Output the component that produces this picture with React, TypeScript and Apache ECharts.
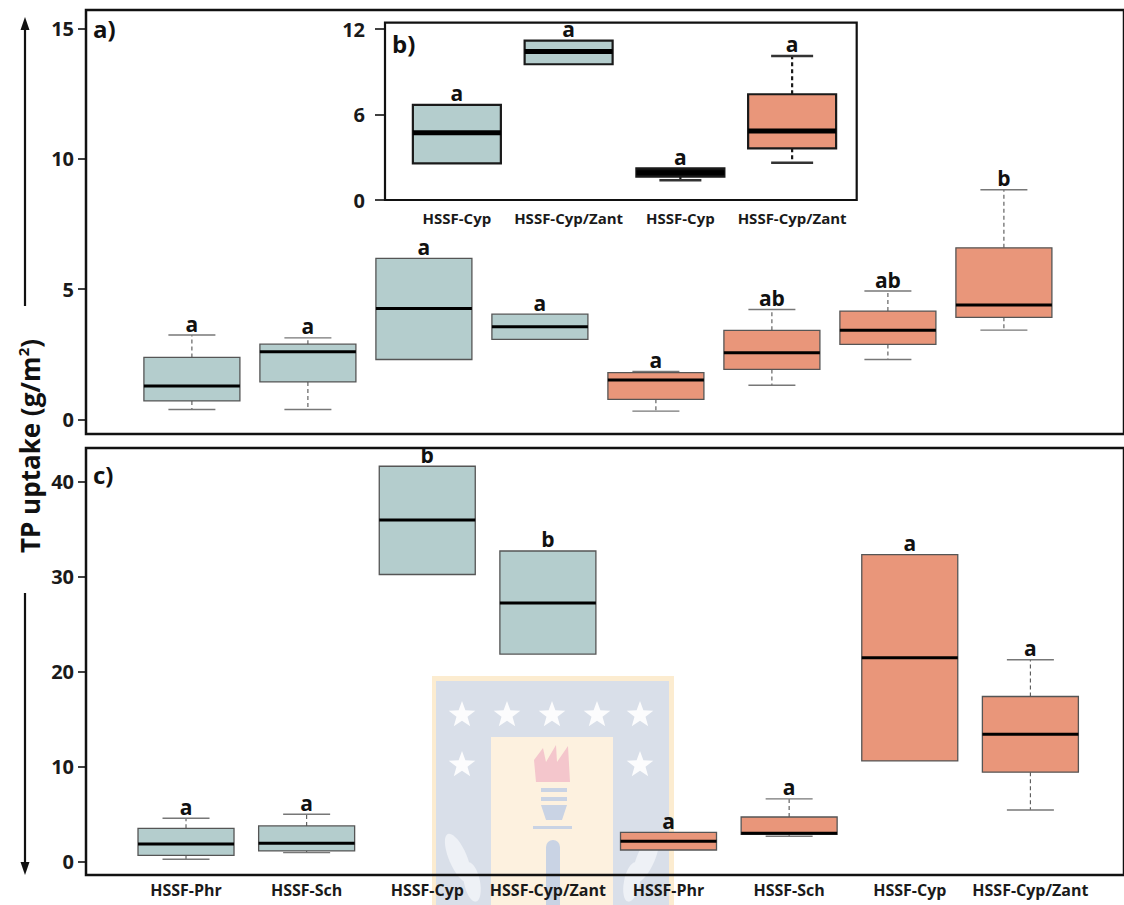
import React, { useEffect, useRef } from 'react';
import * as echarts from 'echarts';

// Treatment labels along the x axes
const categories = ['HSSF-Phr', 'HSSF-Sch', 'HSSF-Cyp', 'HSSF-Cyp/Zant', 'HSSF-Phr', 'HSSF-Sch', 'HSSF-Cyp', 'HSSF-Cyp/Zant'];
const insetCategories = ['HSSF-Cyp', 'HSSF-Cyp/Zant', 'HSSF-Cyp', 'HSSF-Cyp/Zant'];

// Fill group per box: 0 = blue-grey, 1 = salmon, 2 = dark
const groupsMain = [0, 0, 0, 0, 1, 1, 1, 1];
const groupsInset = [0, 0, 2, 1];

// Box statistics: [lower whisker, Q1, median, Q3, upper whisker]
const boxesA = [
  [0.38, 0.71, 1.28, 2.38, 3.24],
  [0.38, 1.44, 2.6, 2.89, 3.13],
  [2.3, 2.3, 4.26, 6.18, 6.18],
  [3.07, 3.07, 3.56, 4.04, 4.04],
  [0.32, 0.77, 1.51, 1.8, 1.84],
  [1.31, 1.92, 2.56, 3.42, 4.22],
  [2.3, 2.88, 3.42, 4.16, 4.93],
  [3.43, 3.92, 4.39, 6.59, 8.82],
];
const lettersA = ['a', 'a', 'a', 'a', 'a', 'ab', 'ab', 'b'];

const boxesB = [
  [2.58, 2.58, 4.73, 6.68, 6.68],
  [9.54, 9.54, 10.43, 11.2, 11.2],
  [1.38, 1.64, 1.92, 2.23, 2.23],
  [2.62, 3.63, 4.85, 7.43, 10.12],
];
const lettersB = ['a', 'a', 'a', 'a'];

const boxesC = [
  [0.25, 0.67, 1.86, 3.51, 4.57],
  [0.95, 1.13, 1.94, 3.76, 4.99],
  [30.2, 30.2, 35.94, 41.58, 41.58],
  [21.83, 21.83, 27.2, 32.67, 32.67],
  [1.23, 1.23, 2.15, 3.09, 3.09],
  [2.67, 2.88, 2.99, 4.7, 6.6],
  [10.6, 10.6, 21.44, 32.28, 32.28],
  [5.44, 9.41, 13.41, 17.37, 21.23],
];
const lettersC = ['a', 'a', 'b', 'b', 'a', 'a', 'a', 'a'];

// Axis ticks
const ticksA = [0, 5, 10, 15];
const ticksB = [0, 6, 12];
const ticksC = [0, 10, 20, 30, 40];

const FONT = "'Open Sans', 'DejaVu Sans', sans-serif";
const FILLS = ['#B4CDCD', '#E9967A', '#111111'];

type Look = {
  boxWidth: number;
  capWidth: number;
  border: string;
  borderWidth: number;
  medianWidth: number;
  whiskerWidth: number;
  capColor: string;
  letterGap: number;
};

const mainLook: Look = {
  boxWidth: 96, capWidth: 47, border: '#555', borderWidth: 1.3, medianWidth: 3,
  whiskerWidth: 1.1, capColor: '#777', letterGap: 1,
};
const insetLook: Look = {
  boxWidth: 88, capWidth: 42, border: '#1a1a1a', borderWidth: 2.2, medianWidth: 5,
  whiskerWidth: 2.2, capColor: '#333', letterGap: 1,
};

function boxSeries(xAxisIndex: number, yAxisIndex: number, boxes: number[][], groups: number[], letters: string[], look: Look) {
  return {
    type: 'custom',
    xAxisIndex,
    yAxisIndex,
    z: 3,
    data: boxes.map((b, i) => [i, ...b, groups[i]]),
    encode: { x: 0, y: [1, 2, 3, 4, 5] },
    renderItem: (params: any, api: any) => {
      const i = api.value(0);
      const lo = api.value(1);
      const q1 = api.value(2);
      const md = api.value(3);
      const q3 = api.value(4);
      const hi = api.value(5);
      const g = api.value(6);
      const cx = api.coord([i, md])[0];
      const y = (v: number) => api.coord([i, v])[1];
      const half = look.boxWidth / 2;
      const capHalf = look.capWidth / 2;
      const children: any[] = [];
      const whisker = (from: number, to: number) => {
        children.push({
          type: 'line',
          shape: { x1: cx, y1: y(from), x2: cx, y2: y(to) },
          style: { stroke: look.border, lineWidth: look.whiskerWidth, lineDash: [4, 3] },
        });
        children.push({
          type: 'line',
          shape: { x1: cx - capHalf, y1: y(to), x2: cx + capHalf, y2: y(to) },
          style: { stroke: look.capColor, lineWidth: look.whiskerWidth + 0.3 },
        });
      };
      if (hi > q3) whisker(q3, hi);
      if (lo < q1) whisker(q1, lo);
      children.push({
        type: 'rect',
        shape: { x: cx - half, y: y(q3), width: look.boxWidth, height: y(q1) - y(q3) },
        style: { fill: FILLS[g], stroke: look.border, lineWidth: look.borderWidth },
      });
      children.push({
        type: 'line',
        shape: { x1: cx - half, y1: y(md), x2: cx + half, y2: y(md) },
        style: { stroke: '#000', lineWidth: look.medianWidth },
      });
      children.push({
        type: 'text',
        style: {
          text: letters[params.dataIndex],
          x: cx,
          y: y(hi) - look.letterGap,
          align: 'center',
          verticalAlign: 'bottom',
          fontFamily: FONT,
          fontWeight: 'bold',
          fontSize: 21,
          fill: '#111',
        },
      });
      return { type: 'group', children };
    },
  };
}

function frameYAxis(gridIndex: number, min: number, max: number, ticks: number[], tickLen: number, margin: number) {
  return {
    type: 'value',
    gridIndex,
    min,
    max,
    splitLine: { show: false },
    axisLine: { show: false },
    axisTick: { show: true, length: tickLen, customValues: ticks, lineStyle: { color: '#111', width: 1.6 } },
    axisLabel: {
      customValues: ticks,
      margin,
      fontFamily: FONT,
      fontWeight: 'bold',
      fontSize: 20,
      color: '#1a1a1a',
    },
  };
}

function hiddenYAxis(gridIndex: number, min: number, max: number) {
  return { type: 'value', gridIndex, min, max, show: false, splitLine: { show: false } };
}

function star(cx: number, cy: number, R: number, r: number) {
  const pts: number[][] = [];
  for (let k = 0; k < 10; k++) {
    const ang = -Math.PI / 2 + (k * Math.PI) / 5;
    const rad = k % 2 === 0 ? R : r;
    pts.push([cx + rad * Math.cos(ang), cy + rad * Math.sin(ang)]);
  }
  return pts;
}

// Faint crest printed behind the lower panel
function crest() {
  const z = -10;
  const leaf = (x: number, y: number, rx: number, ry: number, rotation: number) => ({
    type: 'ellipse', z, x, y, rotation, shape: { cx: 0, cy: 0, rx, ry }, style: { fill: '#eef1f6' },
  });
  const els: any[] = [
    { type: 'rect', z, shape: { x: 432, y: 676, width: 242, height: 229 }, style: { fill: '#fcecd0' } },
    { type: 'rect', z, shape: { x: 436, y: 681, width: 233, height: 224 }, style: { fill: '#d9dfe9' } },
    { type: 'rect', z, shape: { x: 491, y: 737, width: 122, height: 168 }, style: { fill: '#fdf1df' } },
  ];
  const starPos = [[462, 715], [507, 715], [552, 715], [597, 715], [640, 715], [462, 765], [640, 765]];
  starPos.forEach(([sx, sy]) => {
    els.push({ type: 'polygon', z, shape: { points: star(sx, sy, 14, 5.8) }, style: { fill: '#ffffff', opacity: 0.9 } });
  });
  els.push(
    { type: 'polygon', z, shape: { points: [[536, 782], [534, 760], [543, 748], [546, 762], [556, 745], [557, 762], [568, 746], [570, 782]] }, style: { fill: '#f4c6cc' } },
    { type: 'rect', z, shape: { x: 541, y: 788, width: 26, height: 4 }, style: { fill: '#c9d3e4' } },
    { type: 'rect', z, shape: { x: 541, y: 797, width: 26, height: 4 }, style: { fill: '#c9d3e4' } },
    { type: 'polygon', z, shape: { points: [[541, 805], [567, 805], [562, 820], [546, 820]] }, style: { fill: '#c9d3e4' } },
    { type: 'rect', z, shape: { x: 533, y: 826, width: 39, height: 3 }, style: { fill: '#c9d3e4' } },
    { type: 'rect', z, shape: { x: 546, y: 840, width: 14, height: 65, r: [7, 7, 0, 0] }, style: { fill: '#c9d3e4' } },
    leaf(458, 858, 9, 26, 0.4),
    leaf(472, 882, 8, 20, 0.2),
    leaf(646, 858, 9, 26, -0.4),
    leaf(632, 882, 8, 20, -0.2),
  );
  return els;
}

const panelLabel = (text: string, x: number, y: number) => ({
  type: 'text',
  z: 10,
  style: { text, x, y, verticalAlign: 'middle', fontFamily: FONT, fontWeight: 'bold', fontSize: 24, fill: '#111' },
});

const option: any = {
  animation: false,
  backgroundColor: '#fff',
  grid: [
    { left: 86, top: 10, width: 1050, height: 424, show: true, borderColor: '#111', borderWidth: 2.5, backgroundColor: 'transparent' },
    { left: 133.9, top: 10, width: 928, height: 424 },
    { left: 385, top: 22.7, width: 471.7, height: 177.3, show: true, borderColor: '#111', borderWidth: 2.2, backgroundColor: '#fff' },
    { left: 401, top: 22.7, width: 447, height: 177.3 },
    { left: 86, top: 448, width: 1050, height: 427, show: true, borderColor: '#111', borderWidth: 2.5, backgroundColor: 'transparent' },
    { left: 125.7, top: 448, width: 965, height: 427 },
  ],
  xAxis: [
    { type: 'value', gridIndex: 0, show: false, min: 0, max: 1 },
    { type: 'category', gridIndex: 1, data: categories, show: false },
    { type: 'value', gridIndex: 2, show: false, min: 0, max: 1 },
    {
      type: 'category', gridIndex: 3, data: insetCategories,
      axisLine: { show: false }, axisTick: { show: false },
      axisLabel: { margin: 10, fontFamily: FONT, fontWeight: 'bold', fontSize: 15, color: '#1a1a1a', interval: 0 },
    },
    { type: 'value', gridIndex: 4, show: false, min: 0, max: 1 },
    {
      type: 'category', gridIndex: 5, data: categories,
      axisLine: { show: false }, axisTick: { show: false },
      axisLabel: { margin: 7, fontFamily: FONT, fontWeight: 'bold', fontSize: 16, color: '#1a1a1a', interval: 0 },
    },
  ],
  yAxis: [
    frameYAxis(0, -0.56, 15.72, ticksA, 8, 12),
    hiddenYAxis(1, -0.56, 15.72),
    frameYAxis(2, 0, 12.46, ticksB, 10, 20),
    hiddenYAxis(3, 0, 12.46),
    frameYAxis(4, -1.4, 43.5, ticksC, 8, 12),
    hiddenYAxis(5, -1.4, 43.5),
  ],
  series: [
    boxSeries(1, 1, boxesA, groupsMain, lettersA, mainLook),
    boxSeries(3, 3, boxesB, groupsInset, lettersB, insetLook),
    boxSeries(5, 5, boxesC, groupsMain, lettersC, mainLook),
  ],
  graphic: [
    ...crest(),
    panelLabel('a)', 93, 28),
    panelLabel('b)', 392, 43),
    panelLabel('c)', 93, 474),
    // y-axis title and direction arrows
    {
      type: 'text',
      z: 10,
      x: 30,
      y: 446,
      rotation: Math.PI / 2,
      style: {
        text: 'TP uptake (g/m{s|2})',
        align: 'center',
        verticalAlign: 'middle',
        fontFamily: FONT,
        fontWeight: 'bold',
        fontSize: 26,
        lineHeight: 30,
        fill: '#111',
        rich: {
          s: { fontFamily: FONT, fontWeight: 'bold', fontSize: 15, lineHeight: 30, verticalAlign: 'top', fill: '#111' },
        },
      },
    },
    { type: 'line', z: 10, shape: { x1: 25, y1: 306, x2: 25, y2: 26 }, style: { stroke: '#111', lineWidth: 2.2 } },
    { type: 'polygon', z: 10, shape: { points: [[25, 17], [20.5, 30], [29.5, 30]] }, style: { fill: '#111' } },
    { type: 'line', z: 10, shape: { x1: 25, y1: 593, x2: 25, y2: 866 }, style: { stroke: '#111', lineWidth: 2.2 } },
    { type: 'polygon', z: 10, shape: { points: [[25, 875], [20.5, 862], [29.5, 862]] }, style: { fill: '#111' } },
  ],
};

export default function App() {
  const ref = useRef<HTMLDivElement>(null);
  useEffect(() => {
    const chart = echarts.init(ref.current!, undefined, { renderer: 'svg' });
    chart.setOption(option);
    return () => chart.dispose();
  }, []);
  return (
    <div
      ref={ref}
      style={{ position: 'absolute', left: 0, top: 0, width: 1124, height: 905, background: '#fff' }}
    />
  );
}
